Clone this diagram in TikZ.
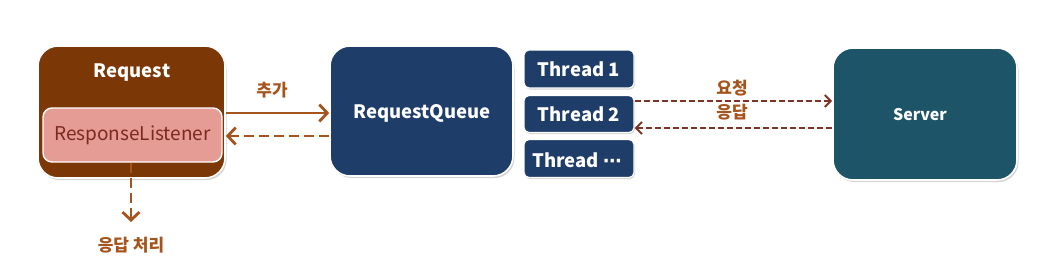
\documentclass[tikz,border=0pt]{standalone}
\usepackage{fontspec}
\setmainfont{Noto Sans CJK KR}
\newfontfamily\symfont{DejaVu Sans}
\usetikzlibrary{arrows.meta,shadows}
\definecolor{reqbrown}{HTML}{7B3806}
\definecolor{listpink}{HTML}{E59C95}
\definecolor{listtext}{HTML}{7A2A22}
\definecolor{navy}{HTML}{1F3D69}
\definecolor{teal}{HTML}{1D5468}
\definecolor{arrbrown}{HTML}{A4541C}
\definecolor{arrdark}{HTML}{7E3424}
\tikzset{
  bigbox/.style={draw=white, line width=1.6pt, rounded corners=20pt, inner sep=0pt,
    drop shadow={opacity=0.35, shadow xshift=1.5pt, shadow yshift=-2pt}},
  thbox/.style={draw=white, line width=1.2pt, rounded corners=5pt, fill=navy, inner sep=0pt,
    minimum width=110pt, minimum height=38pt,
    drop shadow={opacity=0.35, shadow xshift=1pt, shadow yshift=-1.5pt}},
  wtext/.style={text=white, inner sep=0pt, font=\bfseries\fontsize{18.5}{20}\selectfont},
  solidarr/.style={draw=arrbrown, line width=2.8pt, -{Straight Barb[length=8pt,width=17pt,line width=2.8pt]}},
  dasharr/.style={draw=arrbrown, line width=2.8pt, dash pattern=on 10pt off 5pt, -{Straight Barb[length=8pt,width=17pt,line width=2.8pt]}},
  thinarr/.style={draw=arrdark, line width=2pt, dash pattern=on 6pt off 3pt, -{Straight Barb[length=6pt,width=12pt,line width=2pt]}},
  lbl/.style={text=arrbrown, inner sep=0pt, font=\bfseries\fontsize{17}{19}\selectfont}
}
\begin{document}
\begin{tikzpicture}[x=1pt,y=-1pt]
\useasboundingbox (0,0) rectangle (1059,273);
% Request box
\node[bigbox, fill=reqbrown, minimum width=187pt, minimum height=132pt] (req) at (131.5,112) {};
\node[wtext] (reqt) at (132,73) {Request};
\node[draw=white, line width=1.4pt, rounded corners=9pt, fill=listpink, minimum width=179pt, minimum height=54pt,
  inner sep=0pt, text=listtext, font=\fontsize{19}{21}\selectfont] (lis) at (132.5,135) {ResponseListener};
% RequestQueue
\node[bigbox, fill=navy, minimum width=183pt, minimum height=130pt] (rq) at (421.5,111) {};
\node[wtext] (rqt) at (422,113) {RequestQueue};
% Threads
\node[thbox] (t1) at (579,69) {};
\node[wtext] (t1t) at (579,69) {Thread 1};
\node[thbox, minimum height=37pt] (t2) at (579,114) {};
\node[wtext] (t2t) at (579,114.5) {Thread 2};
\node[thbox] (t3) at (579,158.5) {};
\node[wtext] (t3t) at (577,160) {Thread {\symfont\bfseries ⋯}};
% Server
\node[bigbox, fill=teal, minimum width=184pt, minimum height=132pt] (srv) at (925,114) {};
\node[wtext, font=\bfseries\fontsize{16}{18}\selectfont] (srvt) at (920,115) {Server};
% arrows Request <-> Queue
\coordinate (a1s) at (req.east |- 0,113);
\coordinate (a1e) at (rq.west |- 0,113);
\draw[solidarr] (a1s) -- (a1e);
\node[lbl] (add) at (272,90) {추가};
\coordinate (a2s) at (rq.west |- 0,136);
\coordinate (a2e) at (req.east |- 0,136);
\draw[dasharr] (a2s) -- (a2e);
% Thread2 <-> Server
\coordinate (b1s) at (t2.east |- 0,101);
\coordinate (b1e) at (srv.west |- 0,101);
\draw[thinarr] (b1s) -- (b1e);
\node[lbl] (req2) at (732,88) {요청};
\node[lbl] (resp) at (732,112) {응답};
\coordinate (b2s) at (srv.west |- 0,128);
\coordinate (b2e) at (t2.east |- 0,128);
\draw[thinarr] (b2s) -- (b2e);
% down arrow
\coordinate (dend) at (131,222);
\draw[dasharr] (lis.south -| dend) -- (dend);
\node[lbl] (proc) at (131,245) {응답 처리};
\end{tikzpicture}
\end{document}
